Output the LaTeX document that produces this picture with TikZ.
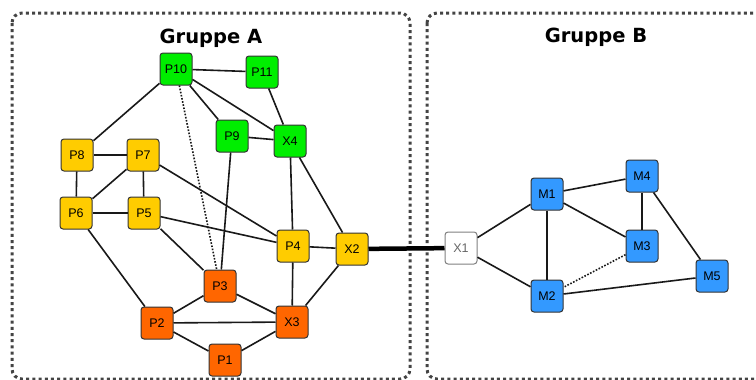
\documentclass[tikz,border=0pt]{standalone}
\usepackage{fontspec}
\setmainfont{Liberation Sans}
\newfontfamily\titlefont{DejaVu Sans}
\definecolor{cgreen}{HTML}{00EE00}
\definecolor{cyellow}{HTML}{FFCC00}
\definecolor{corange}{HTML}{FF6600}
\definecolor{cblue}{HTML}{3399FF}
\definecolor{cborder}{HTML}{333333}
\definecolor{cframe}{HTML}{444444}
\tikzset{
  nd/.style={draw=cborder, line width=1pt, rounded corners=3pt, minimum width=32pt, minimum height=32pt, inner sep=0pt, font=\fontsize{12.5}{14}\selectfont},
  gn/.style={nd, fill=cgreen},
  yn/.style={nd, fill=cyellow},
  on/.style={nd, fill=corange},
  bn/.style={nd, fill=cblue},
  wn/.style={nd, fill=white, draw=gray, text=gray!80!black},
  edge/.style={line width=1.6pt, black!90},
  dotedge/.style={line width=1.6pt, black!90, dash pattern=on 1.6pt off 1.6pt},
  frame/.style={draw=cframe, line width=3pt, dash pattern=on 3pt off 3.2pt, rounded corners=10pt},
  title/.style={font=\titlefont\bfseries\fontsize{19.5}{22}\selectfont}
}
\begin{document}
\begin{tikzpicture}[x=1pt,y=-1pt]
\useasboundingbox (0,0) rectangle (756,380);
\fill[white] (0,0) rectangle (756,380);
\draw[frame] (12,13) rectangle (410,379);
\draw[frame] (427,13) rectangle (775,379);
\node[title] (ta) at (211,38) {Gruppe A};
\node[title] (tb) at (596,37) {Gruppe B};
% group A nodes
\node[gn] (P10) at (176,69) {P10};
\node[gn] (P11) at (262,72) {P11};
\node[gn] (P9) at (232,136) {P9};
\node[gn] (X4) at (290,141) {X4};
\node[yn] (P8) at (77,155) {P8};
\node[yn] (P7) at (143,155) {P7};
\node[yn] (P6) at (76,213) {P6};
\node[yn] (P5) at (144,213) {P5};
\node[yn] (P4) at (293,246) {P4};
\node[yn] (X2) at (352,249) {X2};
\node[on] (P3) at (220,286) {P3};
\node[on] (P2) at (157,323) {P2};
\node[on] (X3) at (292,322) {X3};
\node[on] (P1) at (225,360) {P1};
% group B nodes
\node[wn] (X1) at (461,248) {X1};
\node[bn] (M1) at (547,194) {M1};
\node[bn] (M4) at (642,176) {M4};
\node[bn] (M3) at (642,246) {M3};
\node[bn] (M5) at (712,276) {M5};
\node[bn] (M2) at (547,296) {M2};
% edges
\begin{scope}[on background layer/.style={}]
\end{scope}
\draw[edge] (P10) -- (P11);
\draw[edge] (P10) -- (P8);
\draw[edge] (P10) -- (P9);
\draw[edge] (P10) -- (X4);
\draw[dotedge] (P10) -- (P3);
\draw[edge] (P11) -- (X4);
\draw[edge] (P9) -- (X4);
\draw[edge] (P9) -- (P3);
\draw[edge] (X4) -- (P4);
\draw[edge] (X4) -- (X2);
\draw[edge] (P8) -- (P7);
\draw[edge] (P8) -- (P6);
\draw[edge] (P7) -- (P6);
\draw[edge] (P7) -- (P5);
\draw[edge] (P7) -- (P4);
\draw[edge] (P6) -- (P5);
\draw[edge] (P6) -- (P2);
\draw[edge] (P5) -- (P4);
\draw[edge] (P5) -- (P3);
\draw[edge] (P4) -- (X2);
\draw[edge] (P4) -- (X3);
\draw[edge] (X2) -- (X3);
\draw[line width=4.5pt, black] (X2) -- (X1);
\draw[edge] (P3) -- (P2);
\draw[edge] (P3) -- (X3);
\draw[edge] (P2) -- (X3);
\draw[edge] (P2) -- (P1);
\draw[edge] (P1) -- (X3);
\draw[edge] (X1) -- (M1);
\draw[edge] (X1) -- (M2);
\draw[edge] (M1) -- (M4);
\draw[edge] (M1) -- (M3);
\draw[edge] (M1) -- (M2);
\draw[edge] (M4) -- (M3);
\draw[edge] (M4) -- (M5);
\draw[dotedge] (M3) -- (M2);
\draw[edge] (M2) -- (M5);
\end{tikzpicture}
\end{document}
